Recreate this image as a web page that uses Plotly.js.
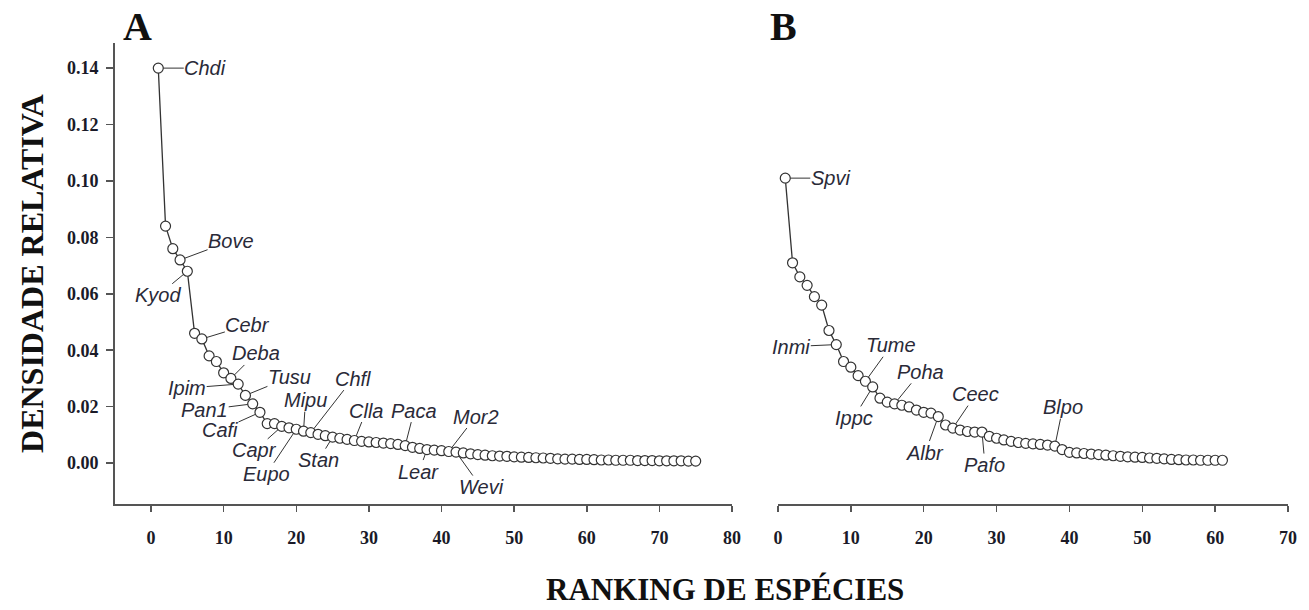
<!DOCTYPE html>
<html>
<head>
<meta charset="utf-8">
<script src="https://cdn.plot.ly/plotly-3.0.1.min.js"></script>
<style>html,body{margin:0;padding:0;background:#fff;}#chart{width:1309px;height:610px;}</style>
</head>
<body>
<div id="chart"></div>
<script>
// ---------- DATA ----------
const densA = [0.140, 0.084, 0.076, 0.072, 0.068, 0.046, 0.044, 0.038, 0.036, 0.032,
  0.030, 0.028, 0.024, 0.021, 0.018, 0.014, 0.014, 0.013, 0.0125, 0.012,
  0.0113, 0.0108, 0.0102, 0.0097, 0.0092, 0.0088, 0.0084, 0.0080, 0.0077, 0.0075,
  0.0073, 0.0071, 0.0069, 0.0066, 0.0062, 0.0056, 0.0052, 0.0048, 0.0046, 0.0044,
  0.0041, 0.0039, 0.0036, 0.0033, 0.0030, 0.0028, 0.0026, 0.0025, 0.0024, 0.0022,
  0.0021, 0.0020, 0.0019, 0.0018, 0.0017, 0.0015, 0.0014, 0.0014, 0.0013, 0.0013,
  0.0012, 0.0011, 0.0011, 0.0010, 0.0010, 0.0010, 0.0009, 0.0009, 0.0009, 0.0008,
  0.0008, 0.0008, 0.0008, 0.0007, 0.0007];
const densB = [0.101, 0.071, 0.066, 0.063, 0.059, 0.056, 0.047, 0.042, 0.036, 0.034,
  0.031, 0.029, 0.027, 0.023, 0.0216, 0.021, 0.0205, 0.0199, 0.0188, 0.018,
  0.0177, 0.0165, 0.0135, 0.0124, 0.0117, 0.0112, 0.011, 0.011, 0.0095, 0.0088,
  0.0082, 0.0077, 0.0073, 0.0070, 0.0068, 0.0066, 0.0064, 0.0060, 0.0048, 0.0038,
  0.0036, 0.0034, 0.0032, 0.0030, 0.0028, 0.0026, 0.0024, 0.0022, 0.0021, 0.0020,
  0.0018, 0.0017, 0.0015, 0.0013, 0.0012, 0.0011, 0.0011, 0.0010, 0.0010, 0.0010,
  0.0010];
const rankA = densA.map((_, i) => i + 1);
const rankB = densB.map((_, i) => i + 1);

const speciesA = ["Chdi", "Bove", "Kyod", "Cebr", "Deba", "Ipim", "Tusu", "Pan1", "Cafi", "Capr",
  "Eupo", "Mipu", "Chfl", "Stan", "Clla", "Paca", "Lear", "Mor2", "Wevi"];
const speciesRankA = [1, 4, 5, 7, 11, 12, 13, 14, 15, 18, 20, 21, 22, 25, 28, 35, 38, 41, 42];
const speciesB = ["Spvi", "Inmi", "Tume", "Ippc", "Poha", "Albr", "Ceec", "Pafo", "Blpo"];
const speciesRankB = [1, 8, 12, 13, 16, 22, 24, 28, 38];

const xTicksA = [0, 10, 20, 30, 40, 50, 60, 70, 80];
const xTicksB = [0, 10, 20, 30, 40, 50, 60, 70];
const yTicks = [0.00, 0.02, 0.04, 0.06, 0.08, 0.10, 0.12, 0.14];

const panelLetters = ["A", "B"];
const xTitle = "RANKING DE ESPÉCIES";
const yTitle = "DENSIDADE RELATIVA";

// ---------- STYLE / LABEL OFFSETS (pixels) ----------
const labelOffset = {
  Chdi: [47, 0], Bove: [51, -19], Kyod: [-29, 24], Cebr: [46, -14], Deba: [25, -25],
  Ipim: [-51, 4], Tusu: [44, -18], Pan1: [-48, 6], Cafi: [-40, 18], Capr: [-27, 24],
  Eupo: [-30, 45], Mipu: [2, -31], Chfl: [42, -54], Stan: [-14, 23], Clla: [12, -30],
  Paca: [9, -35], Lear: [-8, 22], Mor2: [27, -35], Wevi: [25, 35],
  Spvi: [45, 0], Inmi: [-45, 2], Tume: [26, -36], Ippc: [-19, 31], Poha: [26, -32],
  Albr: [-13, 36], Ceec: [23, -34], Pafo: [3, 33], Blpo: [8, -39]
};

const ink = '#333333';
const axisCol = '#555555';
const serif = 'Liberation Serif, Times New Roman, serif';
const sans = 'Liberation Sans, Arial, sans-serif';

function series(x, y, xa) {
  return {
    x: x, y: y, xaxis: xa, yaxis: 'y', type: 'scatter', mode: 'lines+markers',
    line: {color: ink, width: 1.3},
    marker: {symbol: 'circle', size: 10, color: '#ffffff', line: {color: ink, width: 1.2}},
    cliponaxis: false, showlegend: false, hoverinfo: 'x+y'
  };
}

const annotations = [];
function addLabels(names, ranks, vals, xref) {
  names.forEach((n, i) => {
    const r = ranks[i];
    const off = labelOffset[n];
    annotations.push({
      x: r, y: vals[r - 1], xref: xref, yref: 'y', text: n,
      showarrow: true, arrowhead: 0, arrowwidth: 1, arrowcolor: ink, standoff: 5,
      ax: off[0], ay: off[1], borderpad: 0,
      font: {family: sans, size: 20, style: 'italic', color: '#2a2a38'}
    });
  });
}
addLabels(speciesA, speciesRankA, densA, 'x');
addLabels(speciesB, speciesRankB, densB, 'x2');

const letterFont = {family: serif, size: 40, weight: 'bold', color: '#111'};
annotations.push({text: panelLetters[0], xref: 'paper', yref: 'paper', x: 0.0188, y: 1.035,
  xanchor: 'center', yanchor: 'middle', showarrow: false, font: letterFont});
annotations.push({text: panelLetters[1], xref: 'paper', yref: 'paper', x: 0.5703, y: 1.035,
  xanchor: 'center', yanchor: 'middle', showarrow: false, font: letterFont});
annotations.push({text: xTitle, xref: 'paper', yref: 'paper', x: 0.520, y: -0.185,
  showarrow: false, xanchor: 'center', yanchor: 'middle',
  font: {family: serif, size: 31, weight: 'bold', color: '#111'}});

const tickFont = {family: serif, size: 18, weight: 'bold', color: '#1a1a28'};
const commonX = {
  showgrid: false, zeroline: false, showline: true, linecolor: axisCol, linewidth: 2,
  ticks: 'outside', ticklen: 6, tickwidth: 1.5, tickcolor: axisCol, tickfont: tickFont,
  anchor: 'y', ticklabelstandoff: 10
};

const layout = {
  width: 1309, height: 610,
  margin: {l: 115, r: 21, t: 43, b: 106},
  paper_bgcolor: '#ffffff', plot_bgcolor: '#ffffff',
  xaxis: Object.assign({}, commonX, {domain: [0, 0.526], range: [-4.96, 80], tickvals: xTicksA}),
  xaxis2: Object.assign({}, commonX, {domain: [0.5652, 1], range: [0, 70], tickvals: xTicksB}),
  yaxis: {
    range: [-0.0145, 0.1489], tickvals: yTicks, tickformat: '.2f',
    showgrid: false, zeroline: false, showline: true, linecolor: axisCol, linewidth: 2,
    ticks: 'outside', ticklen: 7, tickwidth: 1.5, tickcolor: axisCol, tickfont: tickFont,
    ticklabelstandoff: 4,
    title: {text: yTitle, font: {family: serif, size: 32, weight: 'bold', color: '#111'}, standoff: 14}
  },
  annotations: annotations
};

Plotly.newPlot('chart', [series(rankA, densA, 'x'), series(rankB, densB, 'x2')], layout,
  {displayModeBar: false, staticPlot: true});
</script>
</body>
</html>
